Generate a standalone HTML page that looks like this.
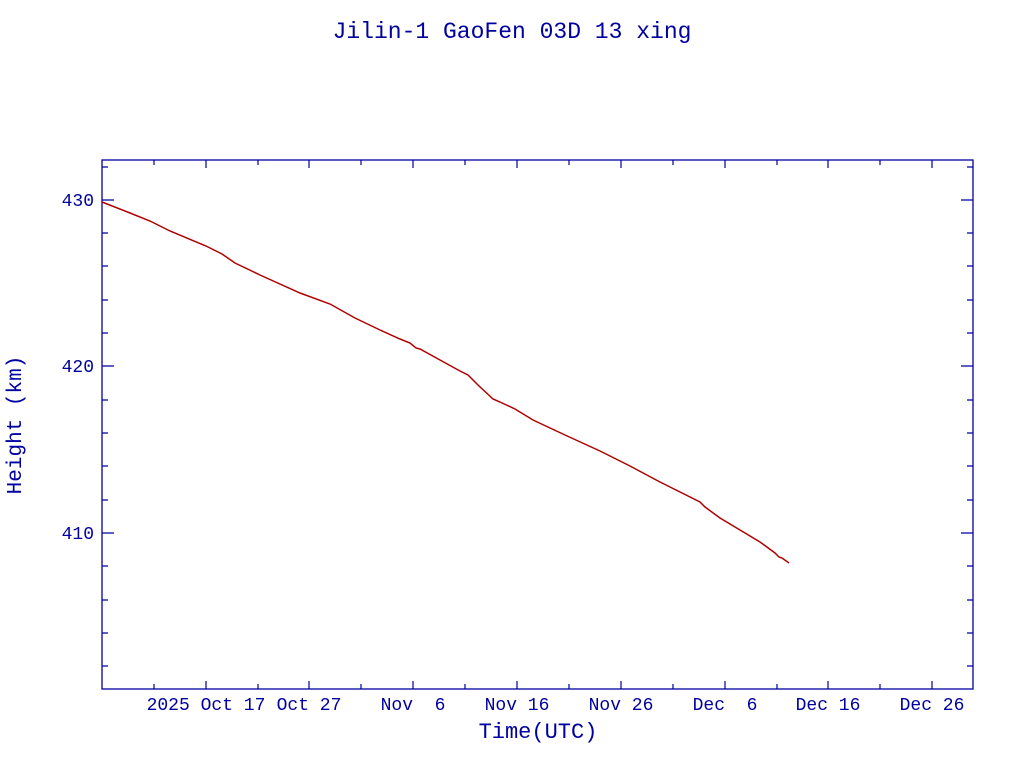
<!DOCTYPE html>
<html><head><style>
body{margin:0;background:#fff;width:1024px;height:768px;overflow:hidden}
svg text{font-family:"Liberation Mono",monospace;fill:#0000a0;white-space:pre}
</style></head><body>
<svg width="1024" height="768" xmlns="http://www.w3.org/2000/svg" xml:space="preserve">
<text x="512" y="38" font-size="23" text-anchor="middle">Jilin-1 GaoFen 03D 13 xing</text>
<rect x="102" y="160" width="871" height="529" fill="none" stroke="#0000a0" stroke-width="1.3"/>
<g stroke="#0000a0" stroke-width="1.2">
<path d="M102,200h12M973,200h-12M102,366h12M973,366h-12M102,533h12M973,533h-12"/>
<path d="M102,167h6M102,233h6M102,266h6M102,300h6M102,333h6M102,400h6M102,433h6M102,466h6M102,500h6M102,566h6M102,600h6M102,633h6M102,666h6
M973,167h-6M973,233h-6M973,266h-6M973,300h-6M973,333h-6M973,400h-6M973,433h-6M973,466h-6M973,500h-6M973,566h-6M973,600h-6M973,633h-6M973,666h-6"/>
<path d="M206,689v-8M309,689v-8M413,689v-8M517,689v-8M621,689v-8M725,689v-8M828,689v-8M932,689v-8
M206,160v8M309,160v8M413,160v8M517,160v8M621,160v8M725,160v8M828,160v8M932,160v8"/>
<path d="M154,689v-5M258,689v-5M361,689v-5M465,689v-5M569,689v-5M673,689v-5M777,689v-5M880,689v-5
M154,160v5M258,160v5M361,160v5M465,160v5M569,160v5M673,160v5M777,160v5M880,160v5"/>
</g>
<g font-size="18" text-anchor="end">
<text x="94" y="206">430</text><text x="94" y="372">420</text><text x="94" y="539">410</text>
</g>
<g font-size="18" text-anchor="middle">
<text x="206" y="710">2025 Oct 17</text><text x="309" y="710">Oct 27</text><text x="413" y="710">Nov  6</text>
<text x="517" y="710">Nov 16</text><text x="621" y="710">Nov 26</text><text x="725" y="710">Dec  6</text>
<text x="828" y="710">Dec 16</text><text x="932" y="710">Dec 26</text>
</g>
<text x="538" y="738" font-size="22" text-anchor="middle">Time(UTC)</text>
<text transform="translate(21,425) rotate(-90)" font-size="21" text-anchor="middle">Height (km)</text>
<polyline fill="none" stroke="#b00000" stroke-width="1.5" points="102,202 130,213 150,221 170,231 206,246 222,254 235,263 260,275 300,293 330,304 355,318 380,330 400,339 410,343 416,348 420,349 440,360 460,371 468,375 478,385 493,399 500,402 515,409 533,420 565,435 600,451 630,466 660,482 700,502 705,507 720,518 740,530 760,542 775,553 779,557 782,558 789,563"/>
</svg>
</body></html>
